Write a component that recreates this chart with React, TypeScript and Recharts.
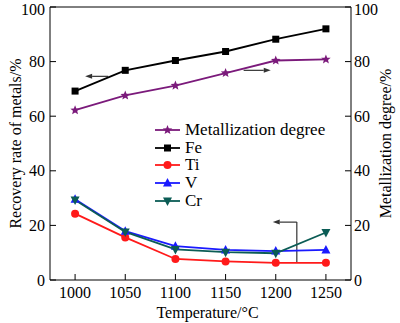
import React from 'react';
import { LineChart, Line, XAxis, YAxis, ReferenceLine } from 'recharts';

const temps = [1000, 1050, 1100, 1150, 1200, 1250];
const metallization = [62.2, 67.6, 71.2, 75.8, 80.4, 80.8];
const fe = [69.2, 76.8, 80.4, 83.7, 88.2, 92.0];
const ti = [24.3, 15.6, 7.7, 6.8, 6.3, 6.3];
const v = [29.6, 17.9, 12.4, 11.0, 10.6, 11.0];
const cr = [29.3, 17.6, 11.2, 10.2, 9.8, 17.4];
const xTicks = [1000, 1050, 1100, 1150, 1200, 1250];
const yTicks = [0, 20, 40, 60, 80, 100];

const data = temps.map((t, i) => ({ t, md: metallization[i], fe: fe[i], ti: ti[i], v: v[i], cr: cr[i] }));

const FONT = '"Liberation Serif", "Times New Roman", serif';

type Kind = 'star' | 'square' | 'circle' | 'up' | 'down';

const Marker = ({ kind, cx, cy, color }: { kind: Kind; cx: number; cy: number; color: string }) => {
  if (cx == null || cy == null) return null;
  if (kind === 'square') return <rect x={cx - 3.5} y={cy - 3.5} width={7} height={7} fill={color} />;
  if (kind === 'circle') return <circle cx={cx} cy={cy} r={4} fill={color} />;
  if (kind === 'up') return <polygon points={`${cx},${cy - 5} ${cx - 4.5},${cy + 3.5} ${cx + 4.5},${cy + 3.5}`} fill={color} />;
  if (kind === 'down') return <polygon points={`${cx},${cy + 5} ${cx - 4.5},${cy - 3.5} ${cx + 4.5},${cy - 3.5}`} fill={color} />;
  const pts: string[] = [];
  for (let k = 0; k < 10; k++) {
    const r = k % 2 === 0 ? 5 : 2.2;
    const a = -Math.PI / 2 + (k * Math.PI) / 5;
    pts.push(`${cx + r * Math.cos(a)},${cy + r * Math.sin(a)}`);
  }
  return <polygon points={pts.join(' ')} fill={color} />;
};

const series: { key: string; name: string; color: string; kind: Kind; axis: string }[] = [
  { key: 'md', name: 'Metallization degree', color: '#7b1a7b', kind: 'star', axis: 'right' },
  { key: 'fe', name: 'Fe', color: '#000000', kind: 'square', axis: 'left' },
  { key: 'ti', name: 'Ti', color: '#ff1a1a', kind: 'circle', axis: 'left' },
  { key: 'v', name: 'V', color: '#1a1aff', kind: 'up', axis: 'left' },
  { key: 'cr', name: 'Cr', color: '#0b5c55', kind: 'down', axis: 'left' },
];

const Arrow = (p: any) => {
  const { x1, y1, x2, y2, head } = p;
  const a = Math.atan2(y2 - y1, x2 - x1);
  const L = 7;
  const W = 2.5;
  const bx = x2 - L * Math.cos(a);
  const by = y2 - L * Math.sin(a);
  const px = -Math.sin(a) * W;
  const py = Math.cos(a) * W;
  return (
    <g>
      <line x1={x1} y1={y1} x2={head ? bx : x2} y2={head ? by : y2} stroke="#333" strokeWidth={1.2} />
      {head && <polygon points={`${x2},${y2} ${bx + px},${by + py} ${bx - px},${by - py}`} fill="#333" />}
    </g>
  );
};

const LegendBox = () => (
  <div style={{ position: 'absolute', left: 155, top: 121, fontFamily: FONT, fontSize: 17, lineHeight: '17.7px', color: '#000' }}>
    {series.map((s) => (
      <div key={s.key} style={{ display: 'flex', alignItems: 'center', height: 17.7 }}>
        <svg width={27} height={12} style={{ marginRight: 3 }}>
          <line x1={0} y1={6} x2={25} y2={6} stroke={s.color} strokeWidth={1.8} />
          <Marker kind={s.kind} cx={12.5} cy={6} color={s.color} />
        </svg>
        <span style={{ whiteSpace: 'nowrap' }}>{s.name}</span>
      </div>
    ))}
  </div>
);

const tickStyle = { fontFamily: FONT, fontSize: 16, fill: '#000' };

export default function App() {
  return (
    <div style={{ position: 'absolute', left: 0, top: 0, width: 400, height: 323, background: '#fff', fontFamily: FONT }}>
      <LineChart width={400} height={323} data={data} margin={{ top: 7, right: 0, bottom: 0, left: 0 }} style={{ fontFamily: FONT }}>
        <XAxis
          dataKey="t"
          type="number"
          domain={[975, 1275]}
          ticks={xTicks}
          height={43}
          stroke="#000"
          tickSize={-6}
          tickMargin={13}
          tick={tickStyle}
          label={{ value: 'Temperature/°C', position: 'insideBottom', offset: 5, dx: 7, style: tickStyle }}
        />
        <YAxis
          yAxisId="left"
          domain={[0, 100]}
          ticks={yTicks}
          width={50}
          stroke="#000"
          tickSize={-6}
          tickMargin={11}
          tick={tickStyle}
          label={{ value: 'Recovery rate of metals/%', angle: -90, position: 'insideLeft', offset: 15, style: { ...tickStyle, textAnchor: 'middle' } }}
        />
        <YAxis
          yAxisId="right"
          orientation="right"
          domain={[0, 100]}
          ticks={yTicks}
          width={49}
          stroke="#000"
          tickSize={-6}
          tickMargin={9}
          tick={tickStyle}
          label={{ value: 'Metallization degree/%', angle: -90, position: 'insideRight', offset: 15, style: { ...tickStyle, textAnchor: 'middle' } }}
        />
        <ReferenceLine yAxisId="left" y={100} stroke="#000" />
        <ReferenceLine yAxisId="left" segment={[{ x: 1033, y: 74.6 }, { x: 1010, y: 74.6 }]} shape={(p: any) => <Arrow {...p} head />} />
        <ReferenceLine yAxisId="left" segment={[{ x: 1168, y: 76.8 }, { x: 1195, y: 76.8 }]} shape={(p: any) => <Arrow {...p} head />} />
        <ReferenceLine yAxisId="left" segment={[{ x: 1221, y: 6.2 }, { x: 1221, y: 21.2 }]} shape={(p: any) => <Arrow {...p} />} />
        <ReferenceLine yAxisId="left" segment={[{ x: 1221, y: 21.2 }, { x: 1197, y: 21.2 }]} shape={(p: any) => <Arrow {...p} head />} />
        {series.map((s) => (
          <Line
            key={s.key}
            yAxisId={s.axis}
            dataKey={s.key}
            name={s.name}
            stroke={s.color}
            strokeWidth={1.8}
            isAnimationActive={false}
            dot={(p: any) => <Marker key={`${s.key}-${p.index}`} kind={s.kind} cx={p.cx} cy={p.cy} color={s.color} />}
            activeDot={false}
          />
        ))}
      </LineChart>
      <LegendBox />
    </div>
  );
}
